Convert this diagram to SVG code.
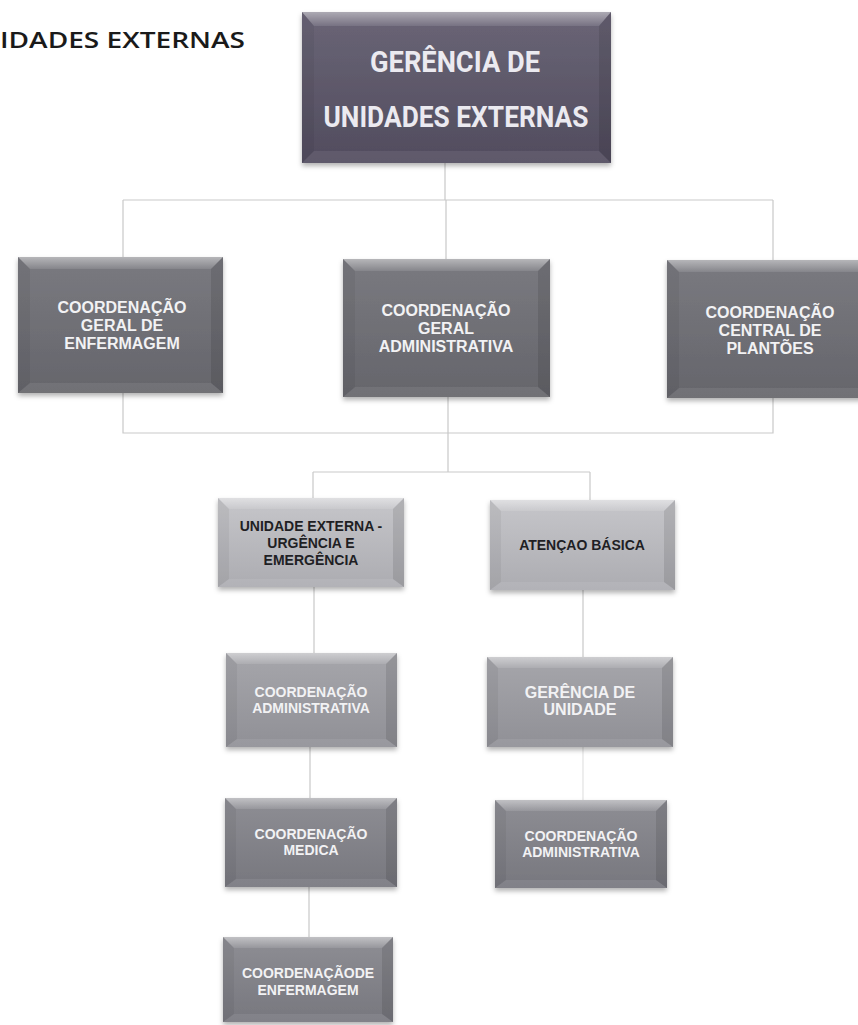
<svg xmlns="http://www.w3.org/2000/svg" width="858" height="1025" viewBox="0 0 858 1025">
<defs>
  <linearGradient id="gTop" x1="0" y1="0" x2="0" y2="1">
    <stop offset="0" stop-color="#6a6576"/>
    <stop offset="1" stop-color="#514c5e"/>
  </linearGradient>
  <linearGradient id="gDark" x1="0" y1="0" x2="0" y2="1">
    <stop offset="0" stop-color="#7a7a80"/>
    <stop offset="1" stop-color="#65656b"/>
  </linearGradient>
  <linearGradient id="gLight" x1="0" y1="0" x2="0" y2="1">
    <stop offset="0" stop-color="#c6c6ca"/>
    <stop offset="1" stop-color="#acacb1"/>
  </linearGradient>
  <linearGradient id="gMid" x1="0" y1="0" x2="0" y2="1">
    <stop offset="0" stop-color="#a6a6ab"/>
    <stop offset="1" stop-color="#909096"/>
  </linearGradient>
  <linearGradient id="gMidDark" x1="0" y1="0" x2="0" y2="1">
    <stop offset="0" stop-color="#8e8e94"/>
    <stop offset="1" stop-color="#77777e"/>
  </linearGradient>
  <linearGradient id="bev" x1="0" y1="0" x2="0" y2="1">
    <stop offset="0" stop-color="#ffffff" stop-opacity="0.45"/>
    <stop offset="1" stop-color="#ffffff" stop-opacity="0.10"/>
  </linearGradient>
  <filter id="sh" x="-10%" y="-10%" width="120%" height="130%">
    <feDropShadow dx="0" dy="3" stdDeviation="2.5" flood-color="#000" flood-opacity="0.3"/>
  </filter>
</defs>
<style>
  .conn { fill: none; stroke: #c9c9c9; stroke-width: 1.2; }
  .faint { stroke: #e2e2e2; }
  .base { filter: url(#sh); }
  .bt { fill: url(#bev); }
  .bl { fill: #000; fill-opacity: 0.05; }
  .br { fill: #000; fill-opacity: 0.10; }
  .bb { fill: #fff; fill-opacity: 0.08; }
  .tw { font-family: "Liberation Sans", Arial, sans-serif; font-weight: bold; fill: #f2f2f4; text-anchor: middle; }
  .td { font-family: "Liberation Sans", Arial, sans-serif; font-weight: bold; fill: #1f1f24; text-anchor: middle; }
  .big { font-family: Roboto, "Liberation Sans", sans-serif; font-weight: bold; fill: #ebeaf0; text-anchor: middle; font-size: 30px; }
</style>

<text x="0" y="48" font-family="'Open Sans', 'Liberation Sans', sans-serif" font-size="22" font-weight="600" fill="#1a1a1a" textLength="245" lengthAdjust="spacingAndGlyphs">IDADES EXTERNAS</text>

<g id="connectors">
  <path class="conn" d="M445,163 V200 M123,200 H773 M123,200 V257 M446,200 V259 M773,200 V260"/>
  <path class="conn" d="M123,393 V433 H773 V398 M448,397 V472"/>
  <path class="conn" d="M313,472 H590 M313,472 V498 M590,472 V500"/>
  <path class="conn" d="M314,587 V653 M583,590 V657"/>
  <path class="conn" d="M310,747 V798 M309,887 V937"/>
  <path class="conn faint" d="M583,747 V800"/>
</g>

<g id="gerencia-unidades-externas">
  <rect class="base" x="302" y="12" width="309" height="151" fill="url(#gTop)"/>
  <polygon class="bt" points="302,12 611,12 599,26 314,26"/>
  <polygon class="bl" points="302,12 314,26 314,151 302,163"/>
  <polygon class="br" points="611,12 599,26 599,151 611,163"/>
  <polygon class="bb" points="302,163 314,151 599,151 611,163"/>
  <text class="big" x="455" y="72" textLength="170" lengthAdjust="spacingAndGlyphs">GERÊNCIA DE</text>
  <text class="big" x="456" y="127" textLength="265" lengthAdjust="spacingAndGlyphs">UNIDADES EXTERNAS</text>
</g>

<g id="coord-geral-enfermagem">
  <rect class="base" x="18" y="257" width="205" height="136" fill="url(#gDark)"/>
  <polygon class="bt" points="18,257 223,257 211,269 30,269"/>
  <polygon class="bl" points="18,257 30,269 30,383 18,393"/>
  <polygon class="br" points="223,257 211,269 211,383 223,393"/>
  <polygon class="bb" points="18,393 30,383 211,383 223,393"/>
  <text class="tw" font-size="16" x="122" y="313">COORDENAÇÃO</text>
  <text class="tw" font-size="16" x="122" y="331">GERAL DE</text>
  <text class="tw" font-size="16" x="122" y="349">ENFERMAGEM</text>
</g>

<g id="coord-geral-administrativa">
  <rect class="base" x="343" y="259" width="207" height="138" fill="url(#gDark)"/>
  <polygon class="bt" points="343,259 550,259 538,271 355,271"/>
  <polygon class="bl" points="343,259 355,271 355,387 343,397"/>
  <polygon class="br" points="550,259 538,271 538,387 550,397"/>
  <polygon class="bb" points="343,397 355,387 538,387 550,397"/>
  <text class="tw" font-size="16" x="446" y="316">COORDENAÇÃO</text>
  <text class="tw" font-size="16" x="446" y="334">GERAL</text>
  <text class="tw" font-size="16" x="446" y="352">ADMINISTRATIVA</text>
</g>

<g id="coord-central-plantoes">
  <rect class="base" x="667" y="260" width="207" height="138" fill="url(#gDark)"/>
  <polygon class="bt" points="667,260 874,260 862,272 679,272"/>
  <polygon class="bl" points="667,260 679,272 679,388 667,398"/>
  <polygon class="bb" points="667,398 679,388 862,388 874,398"/>
  <text class="tw" font-size="16" x="770" y="318">COORDENAÇÃO</text>
  <text class="tw" font-size="16" x="770" y="336">CENTRAL DE</text>
  <text class="tw" font-size="16" x="770" y="354">PLANTÕES</text>
</g>

<g id="unidade-externa-urgencia">
  <rect class="base" x="218" y="498" width="186" height="89" fill="url(#gLight)"/>
  <polygon class="bt" points="218,498 404,498 393,509 229,509"/>
  <polygon class="bl" points="218,498 229,509 229,579 218,587"/>
  <polygon class="br" points="404,498 393,509 393,579 404,587"/>
  <polygon class="bb" points="218,587 229,579 393,579 404,587"/>
  <text class="td" font-size="14" x="311" y="531">UNIDADE EXTERNA -</text>
  <text class="td" font-size="14" x="311" y="548">URGÊNCIA E</text>
  <text class="td" font-size="14" x="311" y="565">EMERGÊNCIA</text>
</g>

<g id="atencao-basica">
  <rect class="base" x="490" y="500" width="185" height="90" fill="url(#gLight)"/>
  <polygon class="bt" points="490,500 675,500 664,511 501,511"/>
  <polygon class="bl" points="490,500 501,511 501,582 490,590"/>
  <polygon class="br" points="675,500 664,511 664,582 675,590"/>
  <polygon class="bb" points="490,590 501,582 664,582 675,590"/>
  <text class="td" font-size="14" x="582" y="550">ATENÇAO BÁSICA</text>
</g>

<g id="coord-administrativa-ue">
  <rect class="base" x="226" y="653" width="171" height="94" fill="url(#gMid)"/>
  <polygon class="bt" points="226,653 397,653 386,664 237,664"/>
  <polygon class="bl" points="226,653 237,664 237,739 226,747"/>
  <polygon class="br" points="397,653 386,664 386,739 397,747"/>
  <polygon class="bb" points="226,747 237,739 386,739 397,747"/>
  <text class="tw" font-size="14" x="311" y="697">COORDENAÇÃO</text>
  <text class="tw" font-size="14" x="311" y="713">ADMINISTRATIVA</text>
</g>

<g id="gerencia-de-unidade">
  <rect class="base" x="487" y="657" width="186" height="90" fill="url(#gMid)"/>
  <polygon class="bt" points="487,657 673,657 662,668 498,668"/>
  <polygon class="bl" points="487,657 498,668 498,739 487,747"/>
  <polygon class="br" points="673,657 662,668 662,739 673,747"/>
  <polygon class="bb" points="487,747 498,739 662,739 673,747"/>
  <text class="tw" font-size="16" x="580" y="698">GERÊNCIA DE</text>
  <text class="tw" font-size="16" x="580" y="715">UNIDADE</text>
</g>

<g id="coord-medica">
  <rect class="base" x="225" y="798" width="172" height="89" fill="url(#gMidDark)"/>
  <polygon class="bt" points="225,798 397,798 386,809 236,809"/>
  <polygon class="bl" points="225,798 236,809 236,879 225,887"/>
  <polygon class="br" points="397,798 386,809 386,879 397,887"/>
  <polygon class="bb" points="225,887 236,879 386,879 397,887"/>
  <text class="tw" font-size="14" x="311" y="839">COORDENAÇÃO</text>
  <text class="tw" font-size="14" x="311" y="855">MEDICA</text>
</g>

<g id="coord-administrativa-ab">
  <rect class="base" x="495" y="800" width="172" height="88" fill="url(#gMidDark)"/>
  <polygon class="bt" points="495,800 667,800 656,811 506,811"/>
  <polygon class="bl" points="495,800 506,811 506,880 495,888"/>
  <polygon class="br" points="667,800 656,811 656,880 667,888"/>
  <polygon class="bb" points="495,888 506,880 656,880 667,888"/>
  <text class="tw" font-size="14" x="581" y="841">COORDENAÇÃO</text>
  <text class="tw" font-size="14" x="581" y="857">ADMINISTRATIVA</text>
</g>

<g id="coord-enfermagem">
  <rect class="base" x="223" y="937" width="170" height="85" fill="url(#gMidDark)"/>
  <polygon class="bt" points="223,937 393,937 382,948 234,948"/>
  <polygon class="bl" points="223,937 234,948 234,1014 223,1022"/>
  <polygon class="br" points="393,937 382,948 382,1014 393,1022"/>
  <polygon class="bb" points="223,1022 234,1014 382,1014 393,1022"/>
  <text class="tw" font-size="14" x="308" y="978">COORDENAÇÃODE</text>
  <text class="tw" font-size="14" x="308" y="995">ENFERMAGEM</text>
</g>
</svg>
